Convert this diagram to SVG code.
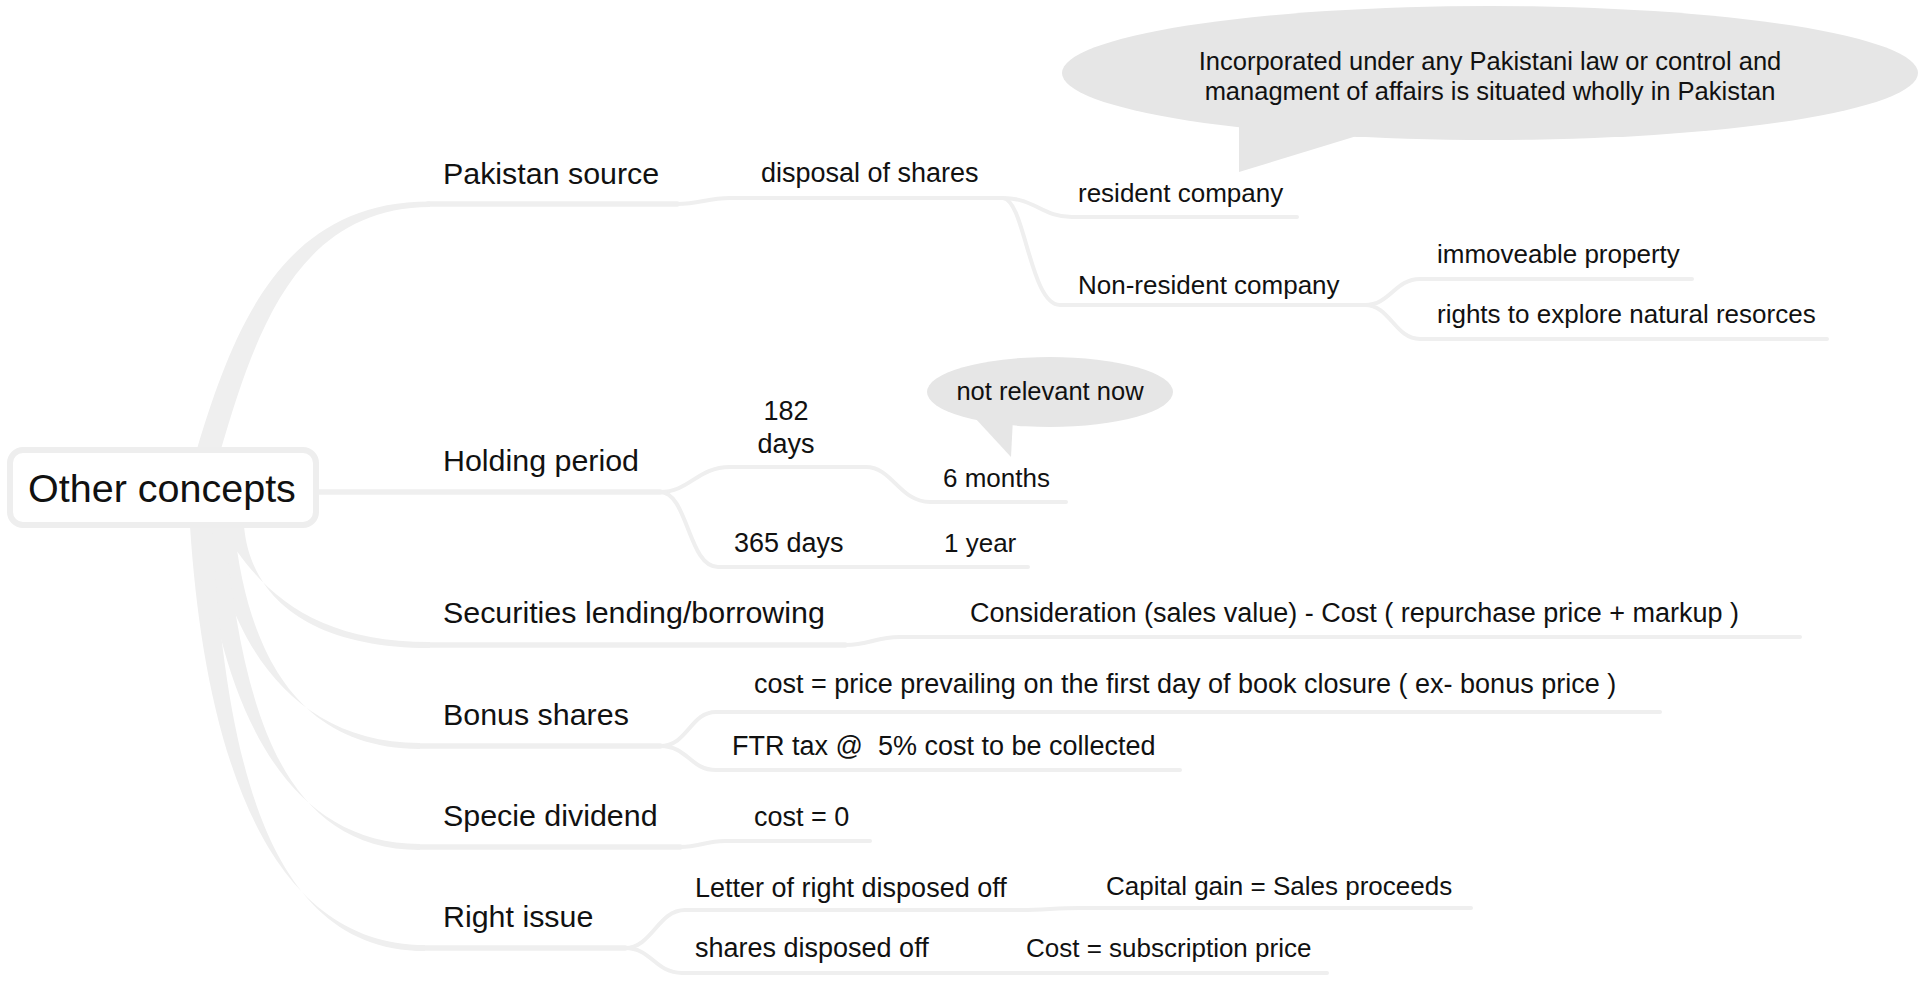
<svg xmlns="http://www.w3.org/2000/svg" width="1923" height="981" viewBox="0 0 1923 981">
<style>
text{font-family:"Liberation Sans",Arial,sans-serif;fill:#111;}
.root{font-size:39.5px;}
.l1{font-size:30.4px;}
.l2{font-size:27px;}
.l3{font-size:26px;}
.note{font-size:25.5px;}
.br{fill:#efefef;stroke:none;}
.c1{fill:none;stroke:#efefef;stroke-width:5.5;stroke-linecap:round;}
.c2{fill:none;stroke:#efefef;stroke-width:4;stroke-linecap:round;}
.bubble{fill:#e6e6e6;stroke:none;}
</style>
<rect width="1923" height="981" fill="#ffffff"/>
<g id="connectors">
  <path class="br" d="M197 449 C233 330 281 201 430 201.5 L430 207 C298 208 256 330 221 449 Z"/>
  <path class="br" d="M221 526 C258 590 312 642 430 642 L430 648 C308 648 250 596 244 526 Z"/>
  <path class="br" d="M211 526 C228 640 292 743 420 743 L420 749 C290 749 246 640 234 526 Z"/>
  <path class="br" d="M201 526 C218 680 272 844 420 844 L420 850 C270 850 241 680 224 526 Z"/>
  <path class="br" d="M190 526 C204 740 262 945 425 945 L425 951 C260 951 225 740 212 526 Z"/>
  <path class="c1" d="M428 204 L677 204"/>
  <path class="c2" d="M677 204 C700 204 707 198 730 198 L1003 198"/>
  <path class="c2" d="M1003 198 C1035 198 1042 217 1072 217 L1297 217"/>
  <path class="c2" d="M1003 198 C1025 200 1030 305 1060 305 L1365 305"/>
  <path class="c2" d="M1365 305 C1390 305 1395 279 1420 279 L1692 279"/>
  <path class="c2" d="M1365 305 C1390 305 1395 339 1420 339 L1827 339"/>
  <path class="c1" d="M316 492 L660 492"/>
  <path class="c2" d="M660 492 C690 492 697 467 730 467 L866 467 C892 467 900 502 930 502 L1066 502"/>
  <path class="c2" d="M660 492 C688 492 688 567 718 567 L1028 567"/>
  <path class="c1" d="M428 645 L845 645"/>
  <path class="c2" d="M845 645 C870 645 875 637 900 637 L1800 637"/>
  <path class="c1" d="M418 746 L660 746"/>
  <path class="c2" d="M660 746 C688 746 690 712 716 712 L1660 712"/>
  <path class="c2" d="M660 746 C688 746 690 770 716 770 L1180 770"/>
  <path class="c1" d="M418 847 L680 847"/>
  <path class="c2" d="M680 847 C700 847 705 841 725 841 L870 841"/>
  <path class="c1" d="M423 948 L625 948"/>
  <path class="c2" d="M625 948 C652 948 658 910 685 910 L1021 910 C1045 910 1055 908 1080 908 L1471 908"/>
  <path class="c2" d="M625 948 C652 948 655 973 682 973 L1327 973"/>
</g>
<g id="root">
  <rect x="10" y="450" width="306" height="75" rx="13" fill="#ffffff" stroke="#eeeeee" stroke-width="6"/>
  <text class="root" x="28" y="502">Other concepts</text>
</g>
<g id="pakistan-source"><text class="l1" x="443" y="184">Pakistan source</text></g>
<g id="disposal-of-shares"><text class="l2" x="761" y="182">disposal of shares</text></g>
<g id="resident-company"><text class="l3" x="1078" y="202">resident company</text></g>
<g id="resident-note">
  <ellipse class="bubble" cx="1490" cy="73" rx="428" ry="67"/>
  <polygon class="bubble" points="1239,120 1239,172 1360,135 1360,120"/>
  <text class="note" x="1490" y="70" text-anchor="middle">Incorporated under any Pakistani law or control and</text>
  <text class="note" x="1490" y="100" text-anchor="middle">managment of affairs is situated wholly in Pakistan</text>
</g>
<g id="non-resident-company"><text class="l3" x="1078" y="294">Non-resident company</text></g>
<g id="immoveable-property"><text class="l3" x="1437" y="263">immoveable property</text></g>
<g id="rights-natural"><text class="l3" x="1437" y="323">rights to explore natural resorces</text></g>
<g id="holding-period"><text class="l1" x="443" y="471">Holding period</text></g>
<g id="d182">
  <text class="l2" x="786" y="420" text-anchor="middle">182</text>
  <text class="l2" x="786" y="453" text-anchor="middle">days</text>
</g>
<g id="six-months"><text class="l3" x="943" y="487">6 months</text></g>
<g id="months-note">
  <ellipse class="bubble" cx="1050" cy="392" rx="123" ry="35"/>
  <polygon class="bubble" points="975,418 1011,457 1013,418"/>
  <text class="note" x="1050" y="400" text-anchor="middle">not relevant now</text>
</g>
<g id="d365"><text class="l2" x="734" y="552">365 days</text></g>
<g id="one-year"><text class="l3" x="944" y="552">1 year</text></g>
<g id="securities"><text class="l1" x="443" y="623">Securities lending/borrowing</text></g>
<g id="consideration"><text class="l2" x="970" y="622">Consideration (sales value) - Cost ( repurchase price + markup )</text></g>
<g id="bonus-shares"><text class="l1" x="443" y="725">Bonus shares</text></g>
<g id="bonus-cost"><text class="l2" x="754" y="693">cost = price prevailing on the first day of book closure ( ex- bonus price )</text></g>
<g id="ftr-tax"><text class="l2" x="732" y="755" style="white-space:pre">FTR tax @  5% cost to be collected</text></g>
<g id="specie-dividend"><text class="l1" x="443" y="826">Specie dividend</text></g>
<g id="specie-cost"><text class="l2" x="754" y="826">cost = 0</text></g>
<g id="right-issue"><text class="l1" x="443" y="927">Right issue</text></g>
<g id="letter-of-right"><text class="l2" x="695" y="897">Letter of right disposed off</text></g>
<g id="capital-gain"><text class="l3" x="1106" y="895">Capital gain = Sales proceeds</text></g>
<g id="shares-disposed"><text class="l2" x="695" y="957">shares disposed off</text></g>
<g id="subscription"><text class="l3" x="1026" y="957">Cost = subscription price</text></g>
</svg>
